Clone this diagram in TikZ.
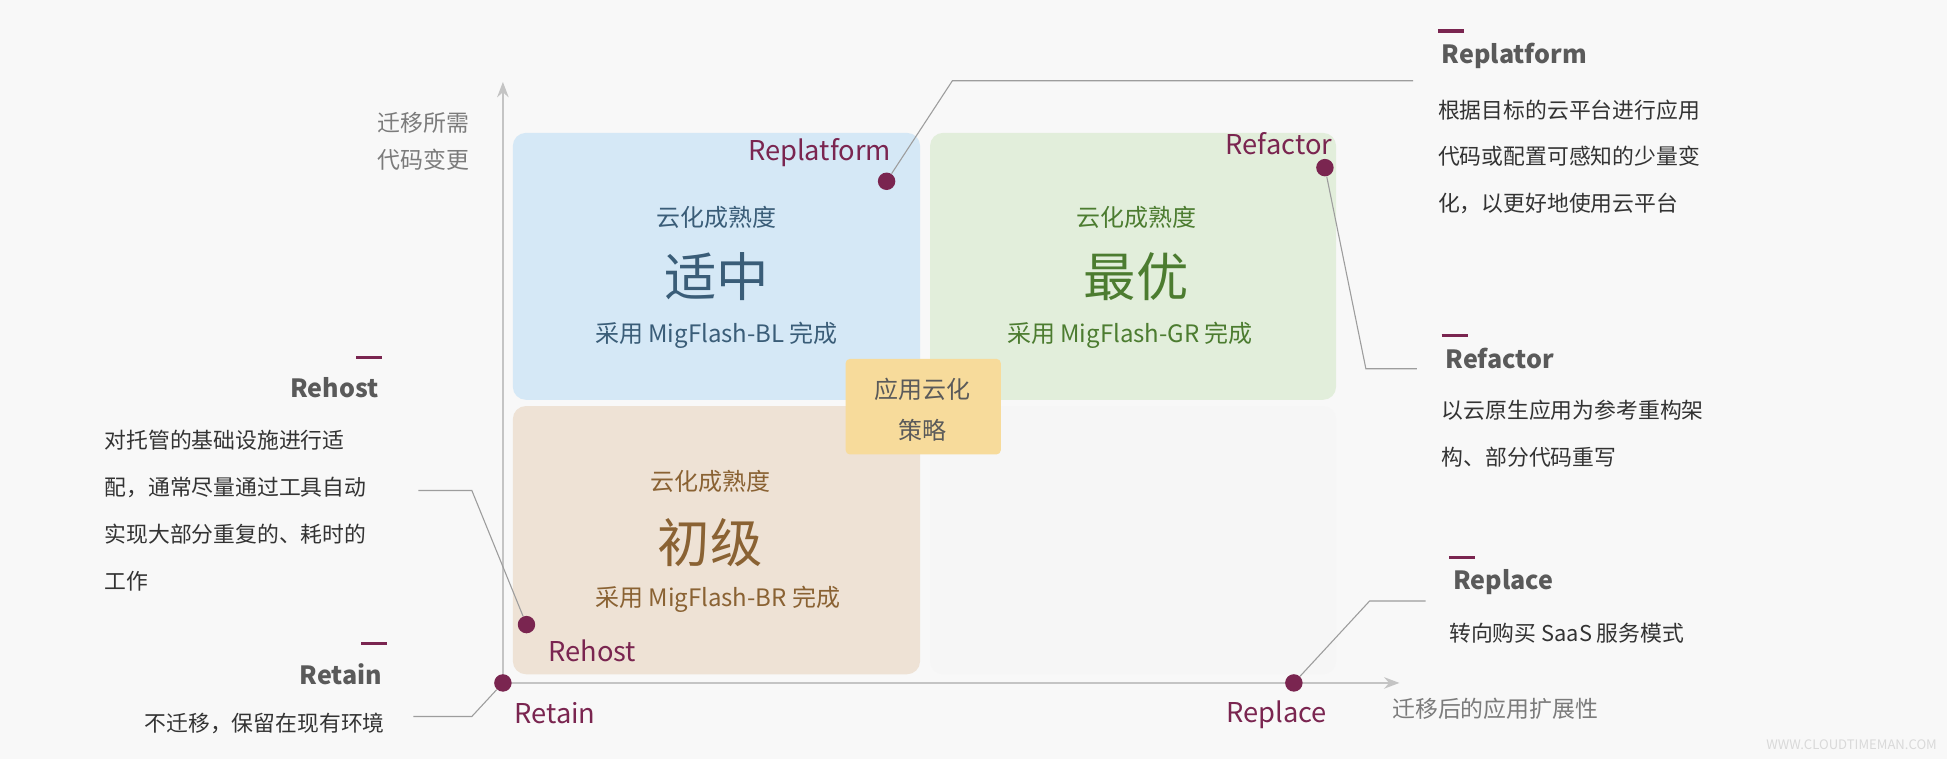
\documentclass[tikz,border=0pt]{standalone}
\usepackage{fontspec}
\setmainfont{Noto Sans CJK SC}
\usetikzlibrary{arrows.meta}
\definecolor{bg}{HTML}{F8F8F8}
\definecolor{axis}{HTML}{C4C4C4}
\definecolor{plum}{HTML}{7A2550}
\definecolor{note}{HTML}{333333}
\definecolor{head}{HTML}{5A5A5A}
\definecolor{qblue}{HTML}{D5E8F6}
\definecolor{qgreen}{HTML}{E2EEDB}
\definecolor{qtan}{HTML}{EEE2D5}
\definecolor{qgrey}{HTML}{F6F6F6}
\definecolor{tblue}{HTML}{3A5D78}
\definecolor{tgreen}{HTML}{4C7C30}
\definecolor{ttan}{HTML}{8A6233}
\definecolor{core}{HTML}{F7DB9B}

\begin{document}
\begin{tikzpicture}[x=0.02cm,y=-0.02cm,
  quad/.style={rounded corners=6pt},
  small/.style={font=\fontsize{11}{13}\selectfont},
  big/.style={font=\fontsize{24}{26}\selectfont},
  ptlabel/.style={text=plum,font=\fontsize{12.5}{14}\selectfont},
  dot/.style={circle,fill=plum,inner sep=0pt,minimum size=8pt},
  title/.style={text=head,font=\bfseries\fontsize{11.5}{14}\selectfont},
  body/.style={text=note,font=\fontsize{10}{21.5}\selectfont,align=left},
  leader/.style={draw=axis!80!black,line width=0.5pt},
  tick/.style={draw=plum,line width=1.5pt}]
\fill[bg] (0,0) rectangle (1568,611);
\useasboundingbox (0,0) rectangle (1568,611);

% quadrants
\fill[qblue,quad] (413,107) rectangle (741,322);
\fill[qgreen,quad] (749,107) rectangle (1076,322);
\fill[qtan,quad] (413,327) rectangle (741,543);
\fill[qgrey,quad] (749,327) rectangle (1076,543);
\node[small,text=tblue] (blA) at (577,175) {云化成熟度};
\node[big,text=tblue] (blB) at (577,223) {适中};
\node[small,text=tblue] (blC) at (577,270) {采用 MigFlash-BL 完成};
\node[small,text=tgreen] (grA) at (915,175) {云化成熟度};
\node[big,text=tgreen] (grB) at (915,223) {最优};
\node[small,text=tgreen] (grC) at (910,270) {采用 MigFlash-GR 完成};
\node[small,text=ttan] (brA) at (572,388) {云化成熟度};
\node[big,text=ttan] (brB) at (572,437) {初级};
\node[small,text=ttan] (brC) at (578,483) {采用 MigFlash-BR 完成};
\fill[core,rounded corners=2pt] (681,289) rectangle (806,366);
\node[small,text=head,align=center,font=\fontsize{11}{19}\selectfont] (core) at (743,330) {应用云化\\策略};

% axes
\draw[axis,line width=1pt,-{Stealth[length=7pt]}] (405,550) -- (405,66);
\draw[axis,line width=1pt,-{Stealth[length=7pt]}] (405,550) -- (1127,550);
\node[small,text=head!80,align=left,font=\fontsize{10.5}{17}\selectfont] (yl) at (341,114) {迁移所需\\代码变更};
\node[small,text=head!80,anchor=west,font=\fontsize{10.5}{13}\selectfont] (xl) at (1115,571) {迁移后的应用扩展性};

% points
\node[dot] (pRp) at (714,146) {};
\node[dot] (pRf) at (1067,135) {};
\node[dot] (pRh) at (424,503) {};
\node[dot] (pRt) at (405,550) {};
\node[dot] (pRc) at (1042,550) {};
\node[ptlabel] (lRp) at (660,123) {Replatform};
\node[ptlabel] (lRf) at (1030,116) {Refactor};
\node[ptlabel] (lRh) at (477,524) {Rehost};
\node[ptlabel] (lRt) at (447,574) {Retain};
\node[ptlabel] (lRc) at (1028,576) {Replace};

% notes right
\draw[tick] (1158,25) -- (1179,25);
\node[title,anchor=west] (nRp) at (1155,45) {Replatform};
\node[body,anchor=north west] (bRp) at (1152,74) {根据目标的云平台进行应用\\代码或配置可感知的少量变\\化，以更好地使用云平台};
\coordinate (kRp) at (767,65);
\coordinate (eRp) at (1138,65);
\draw[leader] (pRp) -- (kRp) -- (eRp);

\draw[tick] (1161,270) -- (1182,270);
\node[title,anchor=west] (nRf) at (1158,289) {Refactor};
\node[body,anchor=north west] (bRf) at (1155,316) {以云原生应用为参考重构架\\构、部分代码重写};
\coordinate (kRf) at (1100,297);
\coordinate (eRf) at (1141,297);
\draw[leader] (pRf) -- (kRf) -- (eRf);

\draw[tick] (1167,449) -- (1188,449);
\node[title,anchor=west] (nRc) at (1164,469) {Replace};
\node[body,anchor=north west] (bRc) at (1161,496) {转向购买 SaaS 服务模式};
\coordinate (kRc) at (1103,484);
\coordinate (eRc) at (1148,484);
\draw[leader] (pRc) -- (kRc) -- (eRc);

% notes left
\draw[tick] (287,288) -- (308,288);
\node[title,anchor=east] (nRh) at (311,312) {Rehost};
\node[body,anchor=north west] (bRh) at (78,340) {对托管的基础设施进行适\\配，通常尽量通过工具自动\\实现大部分重复的、耗时的\\工作};
\coordinate (kRh) at (380,395);
\coordinate (eRh) at (337,395);
\draw[leader] (pRh) -- (kRh) -- (eRh);

\draw[tick] (291,518) -- (312,518);
\node[title,anchor=east] (nRt) at (314,543) {Retain};
\node[body,anchor=east] (bRt) at (316,583) {不迁移，保留在现有环境};
\coordinate (kRt) at (380,577);
\coordinate (eRt) at (333,577);
\draw[leader] (pRt) -- (kRt) -- (eRt);

\node[text=white!85!black,anchor=east,font=\fontsize{6}{7}\selectfont] (wm) at (1566,600) {WWW.CLOUDTIMEMAN.COM};
\end{tikzpicture}
\end{document}
